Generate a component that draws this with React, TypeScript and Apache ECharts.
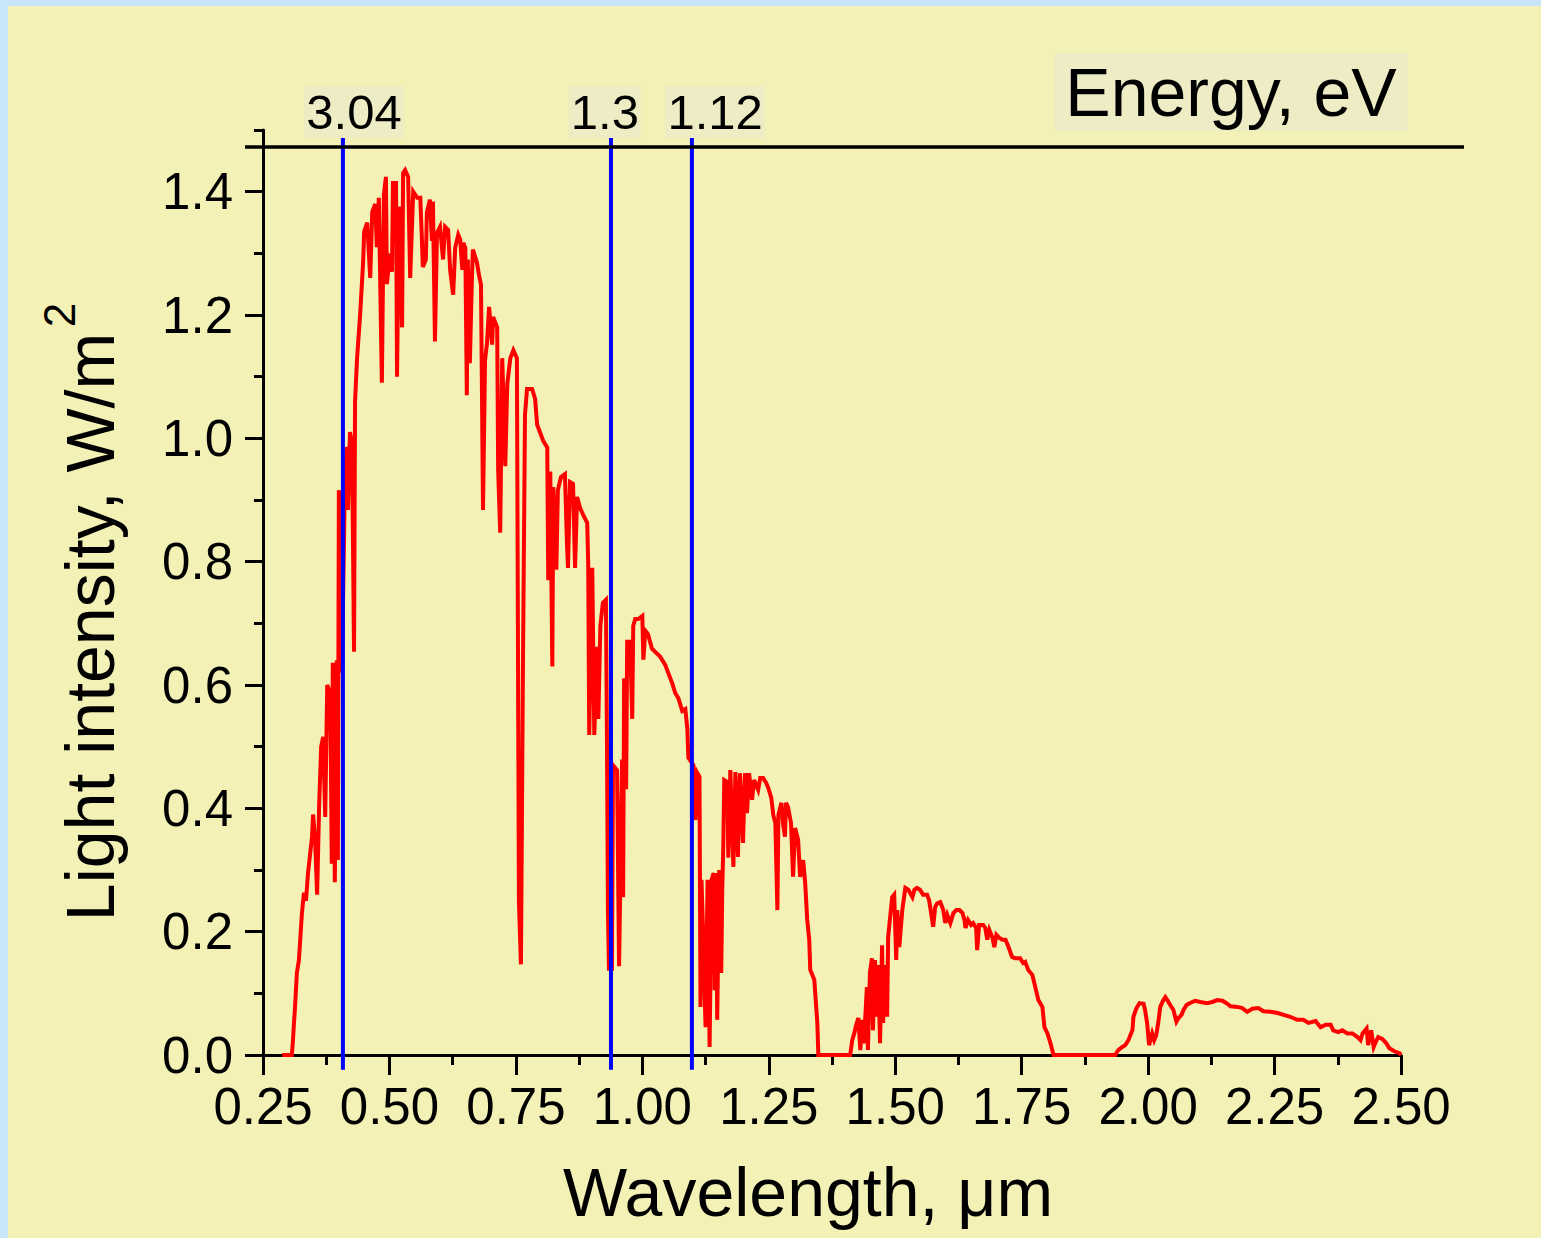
import React, { useEffect, useRef } from 'react';
import * as echarts from 'echarts';

const FONT = '"Liberation Sans", Arial, Helvetica, sans-serif';

// Spectrum: [wavelength µm, intensity W/m²]
const visibleBand: number[][] = [
  [0.288, 0], [0.307, 0], [0.309, 0.02], [0.311, 0.049], [0.313, 0.073], [0.317, 0.133], [0.321, 0.154],
  [0.327, 0.23], [0.331, 0.263], [0.335, 0.25], [0.339, 0.295], [0.347, 0.354], [0.349, 0.39], [0.353, 0.35],
  [0.357, 0.26], [0.361, 0.405], [0.365, 0.5], [0.369, 0.516], [0.373, 0.386], [0.377, 0.6], [0.383, 0.587],
  [0.386, 0.31], [0.388, 0.636], [0.392, 0.28], [0.396, 0.64], [0.398, 0.316], [0.4, 0.916], [0.402, 0.9],
  [0.406, 0.62], [0.412, 0.93], [0.416, 0.986], [0.418, 0.884], [0.422, 1.01], [0.426, 0.99], [0.43, 0.654],
  [0.432, 1.06], [0.436, 1.13], [0.442, 1.2], [0.448, 1.286], [0.45, 1.335], [0.456, 1.35], [0.462, 1.26],
  [0.466, 1.367], [0.472, 1.38], [0.475, 1.31], [0.479, 1.39], [0.485, 1.09], [0.489, 1.395], [0.493, 1.424],
  [0.495, 1.25], [0.501, 1.3], [0.505, 1.27], [0.507, 1.414], [0.513, 1.414], [0.515, 1.1], [0.519, 1.376],
  [0.525, 1.18], [0.527, 1.43], [0.531, 1.435], [0.537, 1.424], [0.541, 1.26], [0.547, 1.4], [0.555, 1.39],
  [0.561, 1.39], [0.564, 1.327], [0.566, 1.278], [0.572, 1.29], [0.574, 1.366], [0.58, 1.387], [0.584, 1.32],
  [0.586, 1.384], [0.59, 1.157], [0.594, 1.333], [0.6, 1.343], [0.606, 1.29], [0.61, 1.343], [0.616, 1.338],
  [0.62, 1.273], [0.626, 1.233], [0.63, 1.309], [0.636, 1.33], [0.64, 1.322], [0.644, 1.273], [0.646, 1.317],
  [0.65, 1.309], [0.653, 1.07], [0.655, 1.29], [0.659, 1.122], [0.663, 1.257], [0.665, 1.306], [0.673, 1.285],
  [0.677, 1.265], [0.681, 1.249], [0.685, 0.884], [0.689, 1.127], [0.693, 1.155], [0.697, 1.213],
];

const nearIrBand: number[][] = [
  [0.703, 1.152], [0.705, 1.197], [0.713, 1.18], [0.715, 0.946], [0.719, 0.847], [0.723, 1.13], [0.729, 0.955],
  [0.733, 1.088], [0.739, 1.13], [0.745, 1.143], [0.752, 1.13], [0.756, 0.248], [0.76, 0.147], [0.764, 0.637],
  [0.768, 1.038], [0.772, 1.08], [0.782, 1.08], [0.788, 1.064], [0.792, 1.022], [0.798, 1.009], [0.804, 0.996],
  [0.812, 0.985], [0.814, 0.77], [0.818, 0.946], [0.822, 0.63], [0.824, 0.921], [0.83, 0.787], [0.833, 0.916],
  [0.839, 0.937], [0.847, 0.942], [0.851, 0.829], [0.853, 0.79], [0.857, 0.929], [0.863, 0.926], [0.867, 0.79],
  [0.871, 0.905], [0.877, 0.887], [0.883, 0.876], [0.891, 0.863], [0.893, 0.796], [0.895, 0.519], [0.901, 0.79],
  [0.905, 0.519], [0.911, 0.662], [0.913, 0.545], [0.917, 0.696], [0.922, 0.733], [0.928, 0.738], [0.93, 0.519],
  [0.932, 0.235], [0.934, 0.14], [0.94, 0.14], [0.942, 0.47], [0.95, 0.462], [0.954, 0.144], [0.96, 0.479],
  [0.962, 0.256], [0.964, 0.611], [0.968, 0.431], [0.97, 0.67], [0.976, 0.67], [0.98, 0.545], [0.982, 0.696],
  [0.986, 0.707], [0.992, 0.707], [1.0, 0.712], [1.002, 0.641], [1.006, 0.688], [1.011, 0.683], [1.019, 0.659],
  [1.025, 0.654], [1.035, 0.646], [1.045, 0.633], [1.051, 0.62], [1.059, 0.603], [1.065, 0.587], [1.071, 0.579],
  [1.079, 0.558], [1.085, 0.561], [1.089, 0.529], [1.091, 0.482], [1.101, 0.47], [1.105, 0.381], [1.109, 0.457],
  [1.113, 0.451], [1.115, 0.078], [1.117, 0.284], [1.121, 0.175], [1.125, 0.045], [1.129, 0.284], [1.133, 0.013],
  [1.137, 0.284], [1.141, 0.295], [1.143, 0.105], [1.146, 0.295], [1.148, 0.057], [1.152, 0.3], [1.156, 0.133],
  [1.158, 0.268], [1.16, 0.336], [1.162, 0.446], [1.168, 0.443], [1.17, 0.32], [1.174, 0.462], [1.18, 0.305],
  [1.184, 0.459], [1.189, 0.321], [1.193, 0.457], [1.199, 0.344], [1.203, 0.457], [1.207, 0.392], [1.211, 0.457],
  [1.217, 0.414], [1.221, 0.446], [1.229, 0.43], [1.233, 0.449], [1.239, 0.449], [1.245, 0.441], [1.249, 0.433],
  [1.255, 0.417], [1.259, 0.389], [1.263, 0.376], [1.267, 0.235], [1.269, 0.389], [1.275, 0.409], [1.278, 0.376],
  [1.282, 0.354], [1.284, 0.409], [1.288, 0.402], [1.294, 0.376], [1.298, 0.289], [1.302, 0.368], [1.308, 0.349],
  [1.312, 0.289], [1.318, 0.316], [1.322, 0.279], [1.326, 0.219], [1.33, 0.187], [1.332, 0.138], [1.34, 0.122],
  [1.346, 0.052], [1.348, 0],
];

const swirBand1: number[][] = [
  [1.411, 0], [1.415, 0.024], [1.419, 0.035], [1.423, 0.049], [1.427, 0.06], [1.431, 0.008], [1.435, 0.057],
  [1.438, 0.019], [1.444, 0.11], [1.446, 0.008], [1.45, 0.133], [1.454, 0.157], [1.456, 0.04], [1.46, 0.154],
  [1.464, 0.062], [1.466, 0.146], [1.47, 0.019], [1.474, 0.178], [1.476, 0.052], [1.48, 0.146], [1.484, 0.062],
  [1.486, 0.191], [1.49, 0.224], [1.494, 0.256], [1.498, 0.26], [1.502, 0.154], [1.504, 0.235], [1.508, 0.175],
  [1.514, 0.235], [1.52, 0.271], [1.526, 0.268], [1.534, 0.256], [1.538, 0.268], [1.543, 0.271], [1.549, 0.268],
  [1.555, 0.26], [1.563, 0.26], [1.567, 0.251], [1.571, 0.23], [1.575, 0.208], [1.579, 0.24], [1.583, 0.246],
  [1.589, 0.248], [1.595, 0.235], [1.599, 0.214], [1.603, 0.227], [1.609, 0.214], [1.615, 0.23], [1.621, 0.235],
  [1.627, 0.235], [1.633, 0.23], [1.637, 0.219], [1.639, 0.206], [1.644, 0.219], [1.65, 0.211], [1.654, 0.214],
  [1.66, 0.206], [1.662, 0.17], [1.666, 0.211], [1.674, 0.211], [1.678, 0.206], [1.682, 0.187], [1.686, 0.203],
  [1.692, 0.191], [1.696, 0.175], [1.7, 0.195], [1.706, 0.19], [1.712, 0.187], [1.718, 0.187], [1.724, 0.175],
  [1.731, 0.159], [1.737, 0.157], [1.747, 0.157], [1.753, 0.149], [1.757, 0.151], [1.763, 0.138], [1.771, 0.13],
  [1.777, 0.11], [1.783, 0.089], [1.791, 0.078], [1.795, 0.045], [1.801, 0.035], [1.807, 0.019], [1.813, 0],
];

const swirBand2: number[][] = [
  [1.935, 0], [1.941, 0.008], [1.949, 0.013], [1.955, 0.016], [1.961, 0.024], [1.969, 0.04], [1.971, 0.062],
  [1.977, 0.076], [1.983, 0.084], [1.991, 0.083], [1.994, 0.073], [1.998, 0.052], [2.002, 0.016], [2.008, 0.035],
  [2.012, 0.024], [2.016, 0.032], [2.02, 0.052], [2.024, 0.078], [2.03, 0.089], [2.034, 0.094], [2.038, 0.089],
  [2.046, 0.078], [2.05, 0.073], [2.056, 0.054], [2.06, 0.06], [2.066, 0.065], [2.07, 0.073], [2.076, 0.081],
  [2.082, 0.084], [2.093, 0.088], [2.103, 0.086], [2.117, 0.084], [2.127, 0.086], [2.137, 0.089], [2.147, 0.088],
  [2.155, 0.084], [2.163, 0.079], [2.177, 0.078], [2.186, 0.076], [2.196, 0.07], [2.206, 0.075], [2.218, 0.076],
  [2.228, 0.071], [2.242, 0.07], [2.256, 0.068], [2.268, 0.065], [2.281, 0.062], [2.295, 0.057], [2.307, 0.057],
  [2.317, 0.052], [2.331, 0.055], [2.341, 0.045], [2.351, 0.049], [2.361, 0.049], [2.366, 0.04], [2.376, 0.037],
  [2.384, 0.04], [2.394, 0.035], [2.404, 0.035], [2.414, 0.029], [2.42, 0.024], [2.424, 0.035], [2.432, 0.043],
  [2.435, 0.016], [2.441, 0.04], [2.446, 0.013], [2.45, 0.021], [2.455, 0.029], [2.463, 0.026], [2.471, 0.019],
  [2.477, 0.011], [2.487, 0.006], [2.497, 0.003], [2.5, 0],
];

// Energy markers (band-gap lines)
const energyLabels = ['3.04', '1.3', '1.12'];
const energyWavelengths = [0.408, 0.938, 1.098];
const energyLabelWavelengths = [0.43, 0.926, 1.144];

// Axis ticks
const yMajorTicks = [0, 0.2, 0.4, 0.6, 0.8, 1.0, 1.2, 1.4];

export default function App() {
  const ref = useRef<HTMLDivElement>(null);

  useEffect(() => {
    if (!ref.current) return;
    const chart = echarts.init(ref.current, null, { renderer: 'svg' });
    const spectrum = [...visibleBand, ...nearIrBand, ...swirBand1, ...swirBand2];
    const black = { color: '#000', width: 3 };

    const blueLines = energyWavelengths.map((wl) => ({
      type: 'line',
      data: [[wl, -0.024], [wl, 1.489]],
      symbol: 'none',
      clip: false,
      z: 4,
      lineStyle: { color: '#0000ff', width: 4 },
    }));

    chart.setOption({
      animation: false,
      backgroundColor: '#f4f1b6',
      grid: { left: 255, top: 124, width: 1138, height: 925, containLabel: false },
      xAxis: {
        type: 'value',
        min: 0.25,
        max: 2.5,
        interval: 0.25,
        axisLine: { show: true, onZero: false, lineStyle: black },
        axisTick: { show: true, length: 20, lineStyle: black },
        minorTick: { show: true, splitNumber: 2, length: 10, lineStyle: black },
        splitLine: { show: false },
        axisLabel: {
          fontSize: 51,
          fontFamily: FONT,
          color: '#000',
          margin: 26,
          formatter: (v: number) => v.toFixed(2),
        },
      },
      yAxis: [
        {
          type: 'value',
          min: 0,
          max: 1.5,
          interval: 0.1,
          position: 'left',
          axisLine: { show: true, onZero: false, lineStyle: black },
          axisTick: { show: true, length: 9, lineStyle: black },
          axisLabel: { show: false },
          splitLine: { show: false },
        },
        {
          type: 'value',
          min: 0,
          max: 1.5,
          interval: 0.2,
          position: 'left',
          offset: 0,
          axisLine: { show: false },
          axisTick: { show: true, length: 18, lineStyle: black, customValues: yMajorTicks },
          axisLabel: {
            fontSize: 51,
            fontFamily: FONT,
            color: '#000',
            margin: 30,
            customValues: yMajorTicks,
            formatter: (v: number) => (v > 1.45 ? '' : v.toFixed(1)),
          },
          splitLine: { show: false },
        },
      ],
      series: [
        {
          type: 'line',
          data: spectrum,
          symbol: 'none',
          yAxisIndex: 0,
          z: 2,
          lineStyle: { color: '#ff0000', width: 4, join: 'miter', miterLimit: 4 },
        },
        ...blueLines,
        {
          type: 'scatter',
          symbolSize: 0,
          clip: false,
          z: 5,
          itemStyle: { opacity: 1 },
          data: energyLabelWavelengths.map((wl, i) => ({
            value: [wl, 1.529],
            label: { formatter: energyLabels[i] },
          })),
          label: {
            show: true,
            position: 'inside',
            fontSize: 49,
            fontFamily: FONT,
            color: '#000',
            opacity: 1,
            backgroundColor: '#edecc4',
            padding: [3, 2, 0, 2],
          },
        },
      ],
      graphic: [
        {
          type: 'line',
          shape: { x1: 237, y1: 141, x2: 1456, y2: 141 },
          style: { stroke: '#000', lineWidth: 3.5 },
          z: 10,
        },
        {
          type: 'text',
          x: 1223,
          y: 86,
          style: {
            text: 'Energy, eV',
            fontSize: 68,
            fontFamily: FONT,
            fill: '#000',
            align: 'center',
            verticalAlign: 'middle',
            backgroundColor: '#edecc4',
            padding: [6, 11, 4, 11],
          },
        },
        {
          type: 'text',
          x: 800,
          y: 1186,
          style: {
            text: 'Wavelength, μm',
            fontSize: 68,
            fontFamily: FONT,
            fill: '#000',
            align: 'center',
            verticalAlign: 'middle',
          },
        },
        {
          type: 'text',
          x: 82,
          y: 621,
          rotation: Math.PI / 2,
          style: {
            text: 'Light intensity, W/m',
            fontSize: 68,
            fontFamily: FONT,
            fill: '#000',
            align: 'center',
            verticalAlign: 'middle',
          },
        },
        {
          type: 'text',
          x: 51,
          y: 309,
          rotation: Math.PI / 2,
          style: {
            text: '2',
            fontSize: 44,
            fontFamily: FONT,
            fill: '#000',
            align: 'center',
            verticalAlign: 'middle',
          },
        },
      ],
    });

    return () => chart.dispose();
  }, []);

  return (
    <div
      style={{
        position: 'absolute',
        left: 0,
        top: 0,
        width: 1541,
        height: 1238,
        background: '#c8e6fa',
        overflow: 'hidden',
      }}
    >
      <div ref={ref} style={{ position: 'absolute', left: 8, top: 6, width: 1533, height: 1232 }} />
    </div>
  );
}
